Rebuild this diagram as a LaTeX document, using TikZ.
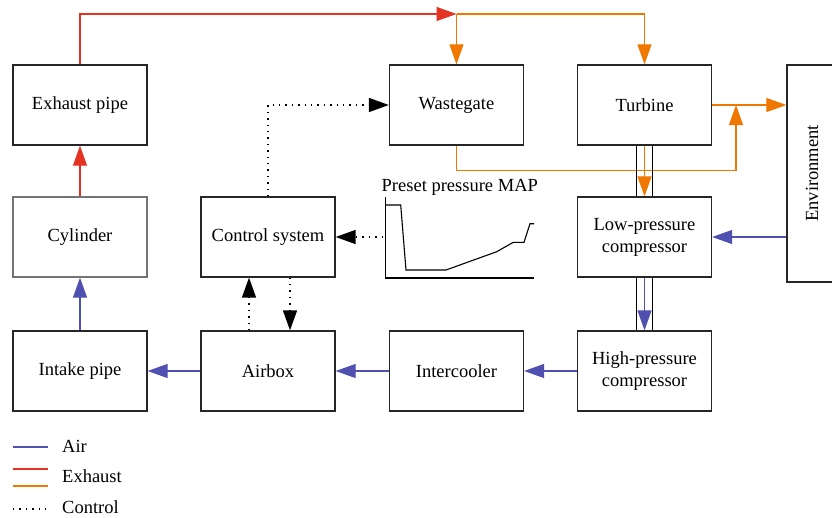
\documentclass[tikz,border=0pt]{standalone}
\usepackage{fontspec}
\setmainfont{Liberation Serif}
\usetikzlibrary{arrows.meta}
\definecolor{airblue}{RGB}{80,80,176}
\definecolor{exhred}{RGB}{228,50,35}
\definecolor{exhorange}{RGB}{240,120,0}

\begin{document}
\begin{tikzpicture}[x=1pt, y=-1pt, font=\fontsize{18.5}{22}\selectfont,
    block/.style={draw=black!85, line width=1.3pt, minimum width=134pt, minimum height=80pt, inner sep=2pt, align=center},
    air/.style={airblue, line width=1.1pt},
    exhaust/.style={exhred, line width=1.1pt},
    gas/.style={exhorange, line width=1.1pt},
    ctrl/.style={black, line width=1.4pt, dash pattern=on 1.4pt off 5pt},
    arr/.style={-{Triangle[length=20pt,width=14pt]}}]
      \useasboundingbox (0,0) rectangle (832,517);
      \clip (0,0) rectangle (832,517);

      % blocks
      \node[block] (exhpipe) at (80,105) {Exhaust pipe};
      \node[block, draw=black!55] (cyl) at (80,237) {Cylinder};
      \node[block] (intake) at (80,371) {Intake pipe};
      \node[block] (ctl) at (268,237) {Control system};
      \node[block] (airbox) at (268,371) {Airbox};
      \node[block] (wg) at (456.5,105) {Wastegate};
      \node[block] (turb) at (644.5,105) {Turbine};
      \node[block] (lpc) at (644.5,237) {Low-pressure\\compressor};
      \node[block] (hpc) at (644.5,371) {High-pressure\\compressor};
      \node[block] (ic) at (456.5,371) {Intercooler};
      \node[block, rotate=90, minimum width=217pt, minimum height=50pt] (env) at (812,173.5) {Environment};

      % exhaust path
      \coordinate (split) at (456.5,14);
      \coordinate (merge) at (736,105);
      \draw[exhaust, arr] (cyl.north) -- (exhpipe.south);
      \draw[exhaust, arr] (exhpipe.north) |- (split);
      \draw[gas, arr] (split) -- (wg.north);
      \draw[gas, arr] (split) -| (turb.north);
      \draw[gas, arr] (turb.east) -- (turb.east -| env.north);
      \draw[gas, arr] (wg.south) -- ++(0,25) -| (merge);

      % shafts
      \draw[line width=1.2pt] ([xshift=-8pt]turb.south) -- ([xshift=-8pt]lpc.north);
      \draw[line width=1.2pt] ([xshift=8pt]turb.south) -- ([xshift=8pt]lpc.north);
      \draw[line width=1.2pt] ([xshift=-8pt]lpc.south) -- ([xshift=-8pt]hpc.north);
      \draw[line width=1.2pt] ([xshift=8pt]lpc.south) -- ([xshift=8pt]hpc.north);
      \draw[gas, arr] (turb.south) -- (lpc.north);
      \draw[air, arr] (lpc.south) -- (hpc.north);

      % air path
      \draw[air, arr] (env.north |- lpc.east) -- (lpc.east);
      \draw[air, arr] (hpc.west) -- (ic.east);
      \draw[air, arr] (ic.west) -- (airbox.east);
      \draw[air, arr] (airbox.west) -- (intake.east);
      \draw[air, arr] (intake.north) -- (cyl.south);

      % pressure map
      \node[anchor=base west, inner sep=0pt] (maptitle) at (381.5,191) {Preset pressure MAP};
      \draw[line width=1.1pt] (385.7,197) -- (385.7,278) -- (534,278);
      \draw[line width=1.1pt] (385.7,205) -- (400.7,205) -- (406,270) -- (446,270) -- (496.7,251.7)
        -- (513.3,242.3) -- (524,242.3) -- (530,223.7) -- (534,223.7);
      \coordinate (map) at (383,237);

      % control signals
      \draw[ctrl, arr] (ctl.north) |- (wg.west);
      \draw[ctrl, arr] (map) -- (ctl.east);
      \draw[ctrl, arr] ([xshift=-19pt]airbox.north) -- ([xshift=-19pt]ctl.south);
      \draw[ctrl, arr] ([xshift=22pt]ctl.south) -- ([xshift=22pt]airbox.north);

      % legend
      \draw[air] (13,447) -- (48,447);
      \draw[exhaust] (13,469) -- (48,469);
      \draw[gas] (13,486) -- (48,486);
      \draw[ctrl] (13,509) -- (48,509);
      \node[anchor=west, inner sep=0pt] (lgair) at (62,446) {Air};
      \node[anchor=west, inner sep=0pt] (lgexh) at (62,476) {Exhaust};
      \node[anchor=west, inner sep=0pt] (lgctl) at (62,507) {Control};
\end{tikzpicture}
\end{document}
